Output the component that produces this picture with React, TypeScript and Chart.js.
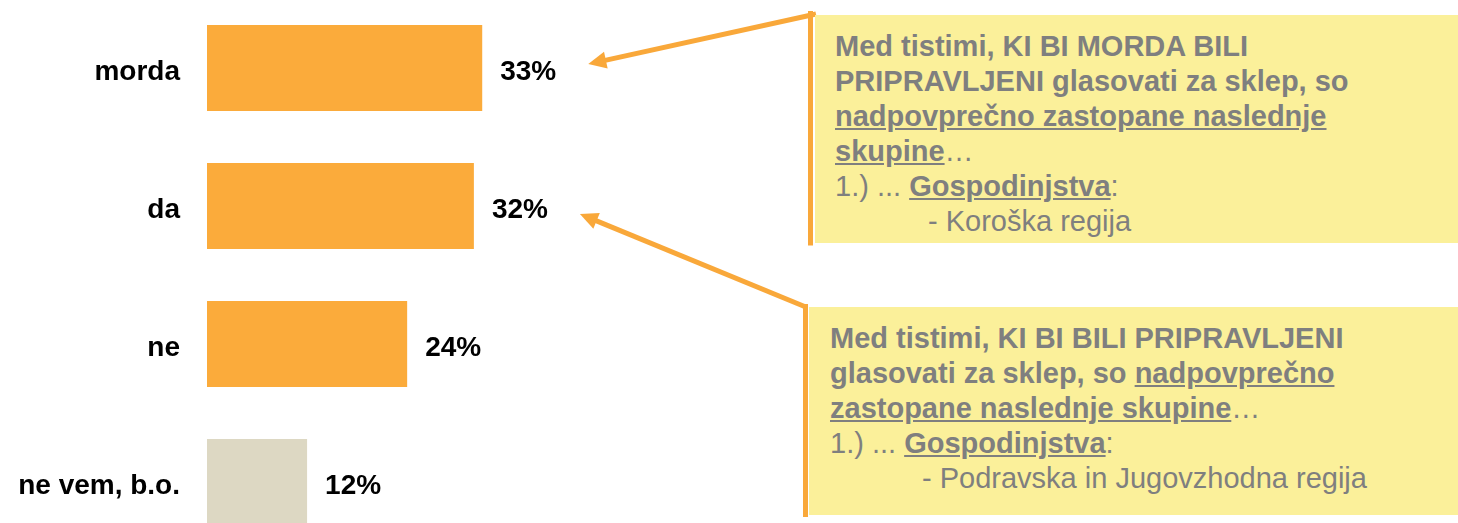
import React, { useEffect, useRef } from "react";
import { Chart, registerables } from "chart.js";

Chart.register(...registerables);

const categories = ["morda", "da", "ne", "ne vem, b.o."];
const values = [33, 32, 24, 12];
const barColors = ["#FBAB3B", "#FBAB3B", "#FBAB3B", "#DDD8C3"];

const FONT = "'Liberation Sans', Arial, Helvetica, sans-serif";
const ORANGE = "#F9A83A";
const BOX_FILL = "#FBF09A";
const GREY = "#7F7F7F";

function drawArrow(ctx: CanvasRenderingContext2D, x1: number, y1: number, x2: number, y2: number) {
  const ang = Math.atan2(y2 - y1, x2 - x1);
  const len = 18;
  const w = 8.5;
  const bx = x2 - len * Math.cos(ang);
  const by = y2 - len * Math.sin(ang);
  ctx.beginPath();
  ctx.moveTo(x1, y1);
  ctx.lineTo(bx + 2 * Math.cos(ang), by + 2 * Math.sin(ang));
  ctx.stroke();
  ctx.beginPath();
  ctx.moveTo(x2, y2);
  ctx.lineTo(bx + w * Math.sin(ang), by - w * Math.cos(ang));
  ctx.lineTo(bx - w * Math.sin(ang), by + w * Math.cos(ang));
  ctx.closePath();
  ctx.fill();
}

export default function App() {
  const ref = useRef<HTMLCanvasElement>(null);

  useEffect(() => {
    if (!ref.current) return;
    const labels = {
      id: "labels",
      afterDatasetsDraw(chart: any) {
        const ctx = chart.ctx as CanvasRenderingContext2D;
        const meta = chart.getDatasetMeta(0);
        const yScale = chart.scales.y;
        ctx.save();
        ctx.font = `bold 28px ${FONT}`;
        ctx.fillStyle = "#000";
        ctx.textBaseline = "alphabetic";
        categories.forEach((c, i) => {
          ctx.textAlign = "right";
          ctx.fillText(c, yScale.right - 27, yScale.getPixelForValue(i) + 12);
        });
        meta.data.forEach((bar: any, i: number) => {
          ctx.textAlign = "left";
          ctx.fillText(values[i] + "%", bar.x + 18, bar.y + 12);
        });
        ctx.restore();
      },
      afterDraw(chart: any) {
        const ctx = chart.ctx as CanvasRenderingContext2D;
        const meta = chart.getDatasetMeta(0);
        ctx.save();
        ctx.font = `bold 28px ${FONT}`;
        ctx.strokeStyle = ORANGE;
        ctx.fillStyle = ORANGE;
        ctx.lineWidth = 5;
        ctx.lineCap = "butt";
        ctx.beginPath();
        ctx.moveTo(810.5, 12);
        ctx.lineTo(810.5, 246.5);
        ctx.moveTo(805.5, 305);
        ctx.lineTo(805.5, 518);
        ctx.stroke();
        const b0 = meta.data[0];
        const b1 = meta.data[1];
        const w0 = ctx.measureText(values[0] + "%").width;
        const w1 = ctx.measureText(values[1] + "%").width;
        drawArrow(ctx, 816, 15, b0.x + 18 + w0 + 32, b0.y - 4);
        drawArrow(ctx, 807, 308.5, b1.x + 18 + w1 + 32, b1.y + 8);
        ctx.restore();
      },
    };

    const chart = new Chart(ref.current, {
      type: "bar",
      data: {
        labels: categories,
        datasets: [
          {
            data: values,
            backgroundColor: barColors,
            borderWidth: 0,
            barPercentage: 1,
            categoryPercentage: 86 / 138,
          },
        ],
      },
      options: {
        indexAxis: "y",
        responsive: false,
        animation: false,
        devicePixelRatio: 1,
        layout: { padding: 0, autoPadding: false },
        plugins: {
          legend: { display: false },
          tooltip: { enabled: false },
          title: { display: false },
        },
        scales: {
          x: {
            display: false,
            min: 0,
            max: 150,
          },
          y: {
            type: "category",
            grid: { display: false, drawTicks: false },
            border: { display: false },
            ticks: { display: false },
            afterFit(scale: any) {
              scale.width = 207;
              scale.paddingTop = 0;
              scale.paddingBottom = 0;
            },
          },
        },
      },
      plugins: [labels],
    });
    return () => chart.destroy();
  }, []);

  const boxText: React.CSSProperties = {
    fontFamily: FONT,
    fontSize: 29,
    lineHeight: "35px",
    color: GREY,
    whiteSpace: "nowrap",
  };
  const b: React.CSSProperties = { fontWeight: "bold" };
  const bu: React.CSSProperties = { fontWeight: "bold", textDecoration: "underline" };

  return (
    <div
      style={{
        position: "absolute",
        left: 0,
        top: 0,
        width: 1458,
        height: 523,
        overflow: "hidden",
        background: "#fff",
      }}
    >
      <canvas ref={ref} width={1458} height={552} style={{ position: "absolute", left: 0, top: -1 }} />
      <div
        style={{
          ...boxText,
          position: "absolute",
          left: 815,
          top: 15,
          width: 643,
          height: 228,
          background: BOX_FILL,
          boxSizing: "border-box",
          paddingLeft: 20,
          paddingTop: 14,
        }}
      >
        <div><span style={b}>Med tistimi, KI BI MORDA BILI</span></div>
        <div><span style={b}>PRIPRAVLJENI glasovati za sklep, so</span></div>
        <div><span style={bu}>nadpovprečno zastopane naslednje</span></div>
        <div><span style={bu}>skupine</span>…</div>
        <div>1.) ... <span style={bu}>Gospodinjstva</span>:</div>
        <div style={{ paddingLeft: 93 }}>- Koroška regija</div>
      </div>
      <div
        style={{
          ...boxText,
          position: "absolute",
          left: 809,
          top: 307,
          width: 649,
          height: 208,
          background: BOX_FILL,
          boxSizing: "border-box",
          paddingLeft: 21,
          paddingTop: 14,
        }}
      >
        <div><span style={b}>Med tistimi, KI BI BILI PRIPRAVLJENI</span></div>
        <div><span style={b}>glasovati za sklep, so </span><span style={bu}>nadpovprečno</span></div>
        <div><span style={bu}>zastopane naslednje skupine</span>…</div>
        <div>1.) ... <span style={bu}>Gospodinjstva</span>:</div>
        <div style={{ paddingLeft: 92 }}>- Podravska in Jugovzhodna regija</div>
      </div>
    </div>
  );
}
